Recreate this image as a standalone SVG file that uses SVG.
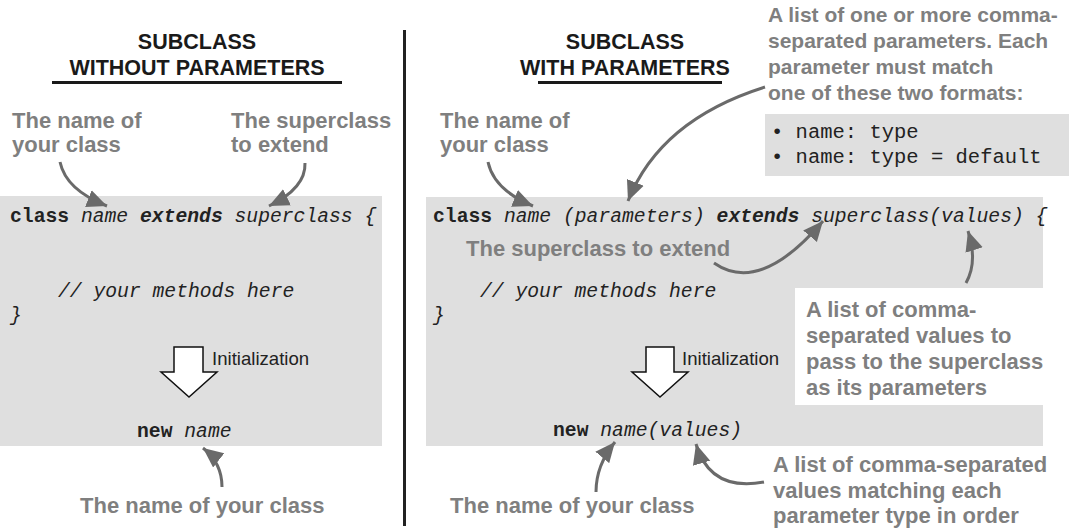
<svg xmlns="http://www.w3.org/2000/svg" width="1069" height="531" viewBox="0 0 1069 531">
<defs>
<style>
.title{font-family:"Liberation Sans",Arial,sans-serif;font-weight:bold;font-size:21.5px;fill:#1a1a1a;text-anchor:middle}
.lbl{font-family:"Liberation Sans",Arial,sans-serif;font-weight:bold;font-size:22px;fill:#7f7f7f}
.sm{font-size:21px}
.code{font-family:"Liberation Mono","Courier New",monospace;font-size:19.7px;fill:#222}
.fmt{font-size:20.5px}
.b{font-weight:bold}
.i{font-style:italic}
.init{font-family:"Liberation Sans",Arial,sans-serif;font-size:18.6px;fill:#222}
.gray{fill:#dfdfdf}
.conn{fill:none;stroke:#6a6a6a;stroke-width:3}
.blk{fill:#fff;stroke:#111;stroke-width:1.5}
</style>
<marker id="ah" markerUnits="userSpaceOnUse" markerWidth="22" markerHeight="20" refX="20" refY="10" orient="auto">
<path d="M0,1 L20,10 L0,19 Z" fill="#6a6a6a"/>
</marker>
</defs>
<rect width="1069" height="531" fill="#fff"/>
<g id="divider"><rect x="403" y="30" width="3" height="496" fill="#222"/></g>
<g id="title-left">
<text class="title" x="197" y="49">SUBCLASS</text>
<text class="title" x="197" y="75">WITHOUT PARAMETERS</text>
<rect x="52" y="81" width="290" height="3" fill="#1a1a1a"/>
</g>
<g id="title-right">
<text class="title" x="625" y="49">SUBCLASS</text>
<text class="title" x="625" y="75">WITH PARAMETERS</text>
<rect x="538" y="81" width="184" height="3" fill="#1a1a1a"/>
</g>
<g id="left-box">
<rect class="gray" x="0" y="196" width="382" height="250"/>
<text class="code" x="10" y="222"><tspan class="b">class</tspan> <tspan class="i">name</tspan> <tspan class="b i">extends</tspan> <tspan class="i">superclass {</tspan></text>
<text class="code i" x="58" y="297">// your methods here</text>
<text class="code i" x="10" y="321">}</text>
<text class="code" x="137" y="437"><tspan class="b">new</tspan> <tspan class="i">name</tspan></text>
</g>
<g id="left-init">
<polygon class="blk" points="174,347 203,347 203,372 217,372 189,397 161,372 174,372"/>
<text class="init" x="212" y="365">Initialization</text>
</g>
<g id="right-box">
<rect class="gray" x="426" y="197" width="617" height="249"/>
<rect x="795" y="288" width="248" height="117" fill="#fff"/>
<text class="code" x="433" y="222"><tspan class="b">class</tspan> <tspan class="i">name (parameters)</tspan> <tspan class="b i">extends</tspan> <tspan class="i">superclass(values) {</tspan></text>
<text class="code i" x="480" y="297">// your methods here</text>
<text class="code i" x="433" y="321">}</text>
<text class="code" x="553" y="436"><tspan class="b">new</tspan> <tspan class="i">name(values)</tspan></text>
</g>
<g id="right-init">
<polygon class="blk" points="646,347 674,347 674,372 688,372 660,397 632,372 646,372"/>
<text class="init" x="682" y="365">Initialization</text>
</g>
<g id="formats">
<rect class="gray" x="765" y="114" width="304" height="62"/>
<text class="code fmt" x="771" y="138">• name: type</text>
<text class="code fmt" x="771" y="163">• name: type = default</text>
</g>
<g id="lbl-name-left"><text class="lbl" x="12" y="128">The name of</text><text class="lbl" x="12" y="152">your class</text></g>
<g id="lbl-super-left"><text class="lbl" x="231" y="128">The superclass</text><text class="lbl" x="231" y="152">to extend</text></g>
<g id="lbl-name-left-bottom"><text class="lbl" x="80" y="513">The name of your class</text></g>
<g id="lbl-name-right"><text class="lbl" x="440" y="128">The name of</text><text class="lbl" x="440" y="152">your class</text></g>
<g id="lbl-params">
<text class="lbl sm" x="768" y="22">A list of one or more comma-</text>
<text class="lbl sm" x="768" y="48">separated parameters. Each</text>
<text class="lbl sm" x="768" y="74">parameter must match</text>
<text class="lbl sm" x="768" y="100">one of these two formats:</text>
</g>
<g id="lbl-super-right"><text class="lbl" x="466" y="256">The superclass to extend</text></g>
<g id="lbl-values">
<text class="lbl" x="806" y="317">A list of comma-</text>
<text class="lbl" x="806" y="343">separated values to</text>
<text class="lbl" x="806" y="369">pass to the superclass</text>
<text class="lbl" x="806" y="395">as its parameters</text>
</g>
<g id="lbl-name-right-bottom"><text class="lbl" x="450" y="513">The name of your class</text></g>
<g id="lbl-values-bottom">
<text class="lbl" x="773" y="472">A list of comma-separated</text>
<text class="lbl" x="773" y="498">values matching each</text>
<text class="lbl" x="773" y="523">parameter type in order</text>
</g>
<g id="connectors">
<path class="conn" marker-end="url(#ah)" d="M60,162 Q66,190 107,206"/>
<path class="conn" marker-end="url(#ah)" d="M305,163 Q306,188 269,206"/>
<path class="conn" marker-end="url(#ah)" d="M222,487 Q222,463 203,448"/>
<path class="conn" marker-end="url(#ah)" d="M488,162 Q494,190 533,206"/>
<path class="conn" marker-end="url(#ah)" d="M765,87 Q660,120 628,201"/>
<path class="conn" marker-end="url(#ah)" d="M714,263 Q760,295 823,221"/>
<path class="conn" marker-end="url(#ah)" d="M966,283 Q978,262 968,231"/>
<path class="conn" marker-end="url(#ah)" d="M596,492 Q596,465 615,442"/>
<path class="conn" marker-end="url(#ah)" d="M764,482 Q710,492 696,444"/>
</g>
</svg>
